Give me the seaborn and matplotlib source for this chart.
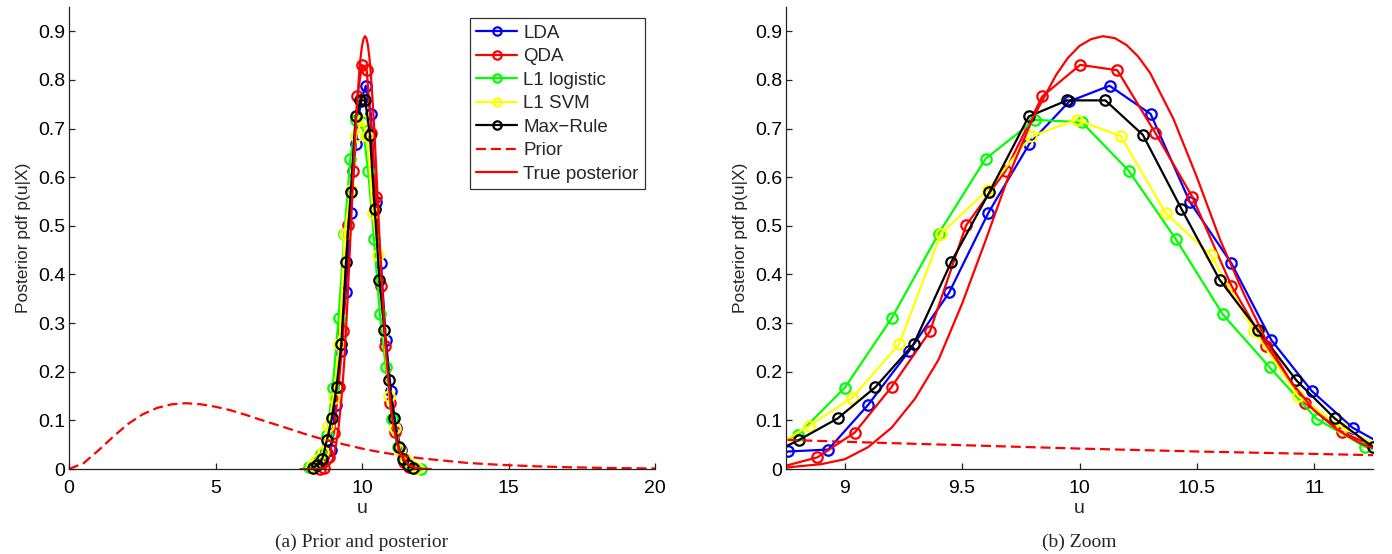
import matplotlib
matplotlib.use("Agg")
import matplotlib.pyplot as plt
import seaborn as sns
import numpy as np

# ---------------- data ----------------
lda_u = [8.42, 8.59, 8.76, 8.93, 9.10, 9.275, 9.445, 9.612, 9.787, 9.957, 10.128,
         10.303, 10.469, 10.647, 10.817, 10.99, 11.163, 11.33, 11.50, 11.67]
lda_p = [0.008, 0.02, 0.036, 0.040, 0.132, 0.243, 0.363, 0.527, 0.669, 0.756, 0.788,
         0.730, 0.550, 0.423, 0.265, 0.16, 0.085, 0.04, 0.015, 0.005]

qda_u = [8.56, 8.72, 8.884, 9.043, 9.20, 9.363, 9.517, 9.685, 9.841, 10.003, 10.161,
         10.323, 10.48, 10.647, 10.796, 10.96, 11.116, 11.28, 11.44, 11.60]
qda_p = [0.0, 0.003, 0.024, 0.075, 0.169, 0.283, 0.501, 0.613, 0.766, 0.831, 0.820,
         0.691, 0.560, 0.377, 0.253, 0.136, 0.077, 0.04, 0.015, 0.005]

l1log_u = [8.20, 8.40, 8.60, 8.80, 9.00, 9.20, 9.40, 9.60, 9.81, 10.01, 10.21,
           10.41, 10.61, 10.81, 11.01, 11.215, 11.42, 11.62, 11.82, 12.02]
l1log_p = [0.004, 0.012, 0.03, 0.070, 0.167, 0.310, 0.484, 0.638, 0.718, 0.713, 0.613,
           0.473, 0.318, 0.209, 0.103, 0.046, 0.02, 0.008, 0.003, 0.001]

l1svm_u = [8.28, 8.47, 8.66, 8.846, 9.033, 9.232, 9.41, 9.609, 9.794, 9.988, 10.175,
           10.367, 10.559, 10.743, 10.931, 11.12, 11.31, 11.50, 11.69, 11.88]
l1svm_p = [0.008, 0.018, 0.035, 0.088, 0.147, 0.257, 0.484, 0.574, 0.684, 0.718, 0.685,
           0.526, 0.440, 0.284, 0.150, 0.085, 0.04, 0.018, 0.007, 0.002]

maxr_u = [8.32, 8.48, 8.64, 8.806, 8.97, 9.13, 9.294, 9.453, 9.616, 9.784, 9.947,
          10.11, 10.27, 10.434, 10.597, 10.76, 10.924, 11.087, 11.25, 11.41, 11.58, 11.74]
maxr_p = [0.003, 0.008, 0.02, 0.060, 0.104, 0.168, 0.257, 0.425, 0.569, 0.725, 0.758,
          0.758, 0.687, 0.535, 0.389, 0.286, 0.182, 0.104, 0.045, 0.02, 0.008, 0.003]

prior_u = [0, 0.5, 1, 1.5, 2, 2.5, 3, 3.5, 4, 4.5, 5, 5.5, 6, 6.5, 7, 7.5, 8, 8.5, 9,
           9.5, 10, 10.5, 11, 11.5, 12, 12.5, 13, 13.5, 14, 14.5, 15, 16, 17, 18, 19, 20]
prior_p = [0.0, 0.012, 0.038, 0.066, 0.092, 0.112, 0.1255, 0.133, 0.1353, 0.133, 0.128,
           0.121, 0.112, 0.102, 0.0925, 0.083, 0.073, 0.064, 0.056, 0.049, 0.042, 0.036,
           0.031, 0.026, 0.022, 0.019, 0.016, 0.013, 0.011, 0.0093, 0.0078, 0.0054,
           0.0037, 0.0025, 0.0017, 0.0011]

true_u = [7.9, 8.5, 8.75, 8.9, 9.0, 9.1, 9.2, 9.3, 9.4, 9.5, 9.6, 9.7, 9.8, 9.9, 9.95,
          10.0, 10.05, 10.1, 10.15, 10.2, 10.25, 10.3, 10.4, 10.5, 10.6, 10.7, 10.8,
          10.9, 11.0, 11.1, 11.2, 11.3, 11.4, 11.6, 11.8, 12.0, 12.35]
true_p = [0.0, 0.0, 0.003, 0.010, 0.020, 0.045, 0.085, 0.145, 0.225, 0.34, 0.47, 0.605,
          0.72, 0.81, 0.845, 0.870, 0.884, 0.890, 0.886, 0.872, 0.848, 0.815, 0.72,
          0.60, 0.47, 0.36, 0.26, 0.18, 0.12, 0.08, 0.052, 0.034, 0.022, 0.008, 0.003,
          0.001, 0.0]

series_names = ["LDA", "QDA", "L1 logistic", "L1 SVM", "Max\u2212Rule"]
series_u = [lda_u, qda_u, l1log_u, l1svm_u, maxr_u]
series_p = [lda_p, qda_p, l1log_p, l1svm_p, maxr_p]
series_colors = ["#0000ff", "#ff0000", "#00ff00", "#ffff00", "#000000"]

yticks = [0, 0.1, 0.2, 0.3, 0.4, 0.5, 0.6, 0.7, 0.8, 0.9]
ytick_labels = ["0", "0.1", "0.2", "0.3", "0.4", "0.5", "0.6", "0.7", "0.8", "0.9"]
xticks_a = [0, 5, 10, 15, 20]
xtick_labels_a = ["0", "5", "10", "15", "20"]
xticks_b = [9, 9.5, 10, 10.5, 11]
xtick_labels_b = ["9", "9.5", "10", "10.5", "11"]

# ---------------- style ----------------
sns.set_style("ticks")
plt.rcParams["font.family"] = ["Liberation Sans", "DejaVu Sans"]
plt.rcParams["xtick.direction"] = "in"
plt.rcParams["ytick.direction"] = "in"

W, H = 1392, 554
fig = plt.figure(figsize=(W / 100, H / 100), dpi=100)
axA = fig.add_axes([69 / W, 85 / H, 586 / W, 462 / H])
axB = fig.add_axes([786 / W, 85 / H, 587 / W, 462 / H])

LW = 1.6
for ax, clip in ((axA, False), (axB, True)):
    for name, u, p, c in zip(series_names, series_u, series_p, series_colors):
        sns.lineplot(x=u, y=p, ax=ax, color=c, lw=LW, marker="o", ms=7.5,
                     markerfacecolor="none", markeredgecolor=c, markeredgewidth=1.6,
                     label=name, sort=False, estimator=None, clip_on=clip)
    sns.lineplot(x=prior_u, y=prior_p, ax=ax, color="#ff0000", lw=LW,
                 linestyle=(0, (4.5, 2.2)), label="Prior", sort=False,
                 estimator=None, clip_on=clip)
    sns.lineplot(x=true_u, y=true_p, ax=ax, color="#ff0000", lw=LW,
                 label="True posterior", sort=False, estimator=None, clip_on=clip)

    ax.set_ylim(0, 0.95)
    ax.set_yticks(yticks)
    ax.set_yticklabels(ytick_labels)
    for s in ("top", "right"):
        ax.spines[s].set_visible(False)
    for s in ("left", "bottom"):
        ax.spines[s].set_color("#222222")
        ax.spines[s].set_linewidth(0.9)
    ax.tick_params(axis="both", labelsize=14, length=4.5, width=0.9,
                   color="#222222", labelcolor="black")
    ax.tick_params(axis="x", pad=8)
    ax.tick_params(axis="y", pad=2.5)
    ax.set_xlabel("u", fontsize=14, labelpad=2)
    ax.set_ylabel("Posterior pdf p(u|X)", fontsize=12.5, labelpad=5)

axA.set_xlim(0, 20)
axA.set_xticks(xticks_a)
axA.set_xticklabels(xtick_labels_a)
axB.set_xlim(8.75, 11.25)
axB.set_xticks(xticks_b)
axB.set_xticklabels(xtick_labels_b)

lgB = axB.get_legend()
if lgB is not None:
    lgB.remove()

leg = axA.legend(loc="upper right", bbox_to_anchor=(0.983, 0.976), borderaxespad=0,
                 fontsize=13.5, frameon=True, fancybox=False, handlelength=2.2,
                 handletextpad=0.3, labelspacing=0.34, borderpad=0.35, numpoints=1)
leg.get_frame().set_edgecolor("black")
leg.get_frame().set_linewidth(0.9)
for h in leg.legend_handles:
    try:
        h.set_markersize(6)
    except Exception:
        pass

fig.text((69 + 586 / 2) / W, 12 / H, "(a) Prior and posterior", ha="center", va="center",
         fontsize=14, family=["Liberation Serif", "DejaVu Serif"])
fig.text((786 + 587 / 2) / W, 12 / H, "(b) Zoom", ha="center", va="center",
         fontsize=14, family=["Liberation Serif", "DejaVu Serif"])

fig.savefig("out.png", dpi=100)
